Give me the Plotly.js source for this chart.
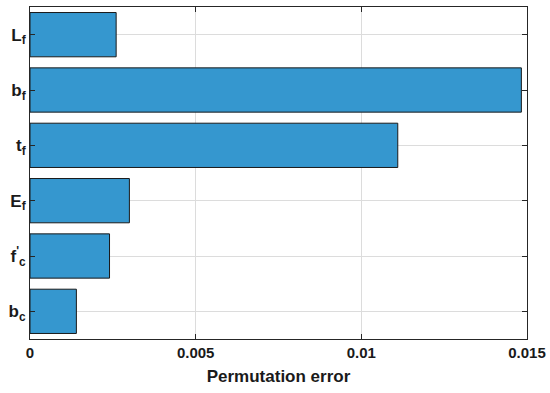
<!DOCTYPE html>
<html>
<head>
<meta charset="utf-8">
<script src="https://cdn.plot.ly/plotly-3.0.1.min.js"></script>
<style>
  html, body { margin: 0; padding: 0; background: #fff; }
  #plot { width: 550px; height: 393px; }
</style>
</head>
<body>
<div id="plot"></div>
<script>
// variables, listed bottom to top as drawn
const labels = ['b<sub>c</sub>', "f<sup>'</sup><sub>c</sub>", 'E<sub>f</sub>', 't<sub>f</sub>', 'b<sub>f</sub>', 'L<sub>f</sub>'];
const errors = [0.0014, 0.0024, 0.0030, 0.0111, 0.01483, 0.0026];
const xTicks = [0, 0.005, 0.01, 0.015];
const xTickText = ['0', '0.005', '0.01', '0.015'];

const trace = {
    type: 'bar',
    orientation: 'h',
    x: errors,
    y: labels,
    width: 0.8,
    marker: { color: '#3597cf', line: { color: '#1a1a1a', width: 1 } },
    hoverinfo: 'x+y'
};

const layout = {
    width: 550,
    height: 393,
    margin: { l: 30, r: 23, t: 7, b: 54 },
    paper_bgcolor: '#fff',
    plot_bgcolor: '#fff',
    showlegend: false,
    font: { family: 'Arial, Liberation Sans, sans-serif', color: '#1a1a1a' },
    xaxis: {
        range: [0, 0.015],
        tickvals: xTicks,
        ticktext: xTickText,
        tickfont: { size: 15, weight: 'bold' },
        ticks: 'inside',
        ticklen: 5,
        tickcolor: '#262626',
        showline: true,
        linecolor: '#262626',
        linewidth: 1,
        mirror: 'ticks',
        showgrid: true,
        gridcolor: '#dcdcdc',
        zeroline: false,
        title: { text: 'Permutation error', font: { size: 17, weight: 'bold' }, standoff: 10 }
    },
    yaxis: {
        type: 'category',
        range: [-0.5, 5.5],
        tickfont: { size: 17, weight: 'bold' },
        ticks: 'inside',
        ticklen: 5,
        tickcolor: '#262626',
        showline: true,
        linecolor: '#262626',
        linewidth: 1,
        mirror: 'ticks',
        showgrid: true,
        gridcolor: '#dcdcdc',
        zeroline: false
    }
};

Plotly.newPlot('plot', [trace], layout, { displayModeBar: false, staticPlot: true });
</script>
</body>
</html>
